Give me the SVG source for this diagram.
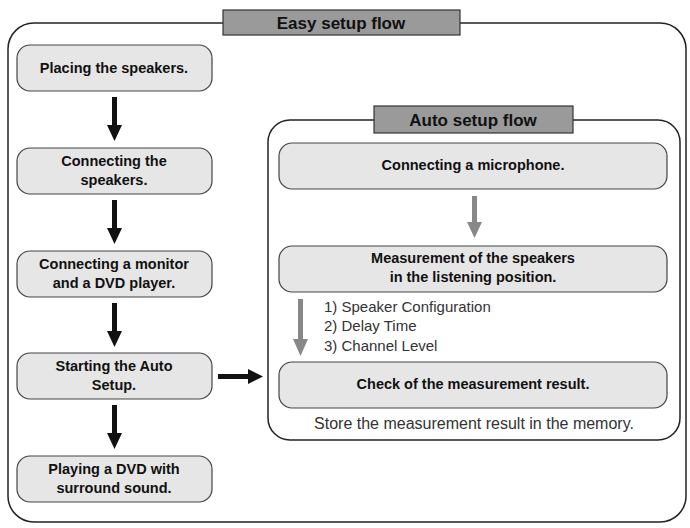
<svg xmlns="http://www.w3.org/2000/svg" width="690" height="528" viewBox="0 0 690 528">
<style>
.frame{fill:#fff;stroke:#222;stroke-width:1.5}
.title{fill:#9a9a9a;stroke:#333;stroke-width:1.2}
.box{fill:#e6e6e6;stroke:#444;stroke-width:1.2}
.t{font-family:"Liberation Sans",Arial,sans-serif;font-weight:bold;font-size:14.5px;fill:#111;text-anchor:middle}
.tt{font-family:"Liberation Sans",Arial,sans-serif;font-weight:bold;font-size:17px;fill:#111;text-anchor:middle}
.n{font-family:"Liberation Sans",Arial,sans-serif;font-size:15px;fill:#333}
.blk{fill:#111}
.gry{fill:#888}
</style>
<rect width="690" height="528" fill="#fff"/>
<rect class="frame" x="8" y="23" width="678" height="499" rx="26"/>
<g id="easy-title"><rect class="title" x="223" y="10" width="237" height="25"/><text class="tt" x="341" y="29">Easy setup flow</text></g>
<g id="n1"><rect class="box" x="17" y="45" width="195" height="46" rx="13"/><text class="t" x="114" y="73">Placing the speakers.</text></g>
<g id="n2"><rect class="box" x="17" y="148" width="195" height="46" rx="13"/><text class="t" x="114" y="166">Connecting the</text><text class="t" x="114" y="185">speakers.</text></g>
<g id="n3"><rect class="box" x="17" y="251" width="195" height="46" rx="13"/><text class="t" x="114" y="269">Connecting a monitor</text><text class="t" x="114" y="288">and a DVD player.</text></g>
<g id="n4"><rect class="box" x="17" y="353" width="195" height="46" rx="13"/><text class="t" x="114" y="371">Starting the Auto</text><text class="t" x="114" y="390">Setup.</text></g>
<g id="n5"><rect class="box" x="17" y="456" width="195" height="46" rx="13"/><text class="t" x="114" y="474">Playing a DVD with</text><text class="t" x="114" y="493">surround sound.</text></g>
<g id="auto">
<rect class="frame" x="268" y="120" width="412" height="320" rx="22"/>
<rect class="title" x="374" y="106" width="199" height="27"/><text class="tt" x="473" y="126">Auto setup flow</text>
</g>
<g id="a1"><rect class="box" x="279" y="143" width="388" height="46" rx="13"/><text class="t" x="473" y="170">Connecting a microphone.</text></g>
<g id="a2"><rect class="box" x="279" y="246" width="388" height="46" rx="13"/><text class="t" x="473" y="263">Measurement of the speakers</text><text class="t" x="473" y="282">in the listening position.</text></g>
<g id="list"><text class="n" x="324" y="312">1) Speaker Configuration</text><text class="n" x="324" y="331">2) Delay Time</text><text class="n" x="324" y="351">3) Channel Level</text></g>
<g id="a3"><rect class="box" x="279" y="362" width="388" height="46" rx="13"/><text class="t" x="473" y="389">Check of the measurement result.</text></g>
<text class="n" x="474" y="429" text-anchor="middle" style="font-size:16px">Store the measurement result in the memory.</text>
<g id="connectors">
<polygon class="blk" points="112,97 117,97 117,125 122,125 114.5,141 107,125 112,125"/>
<polygon class="blk" points="112,200 117,200 117,228 122,228 114.5,244 107,228 112,228"/>
<polygon class="blk" points="112,303 117,303 117,331 122,331 114.5,347 107,331 112,331"/>
<polygon class="blk" points="112,405 117,405 117,433 122,433 114.5,449 107,433 112,433"/>
<polygon class="blk" points="218,374 248,374 248,369 263,376.5 248,384 248,379 218,379"/>
<polygon class="gry" points="472,196 477,196 477,222 482,222 474.5,238 467,222 472,222"/>
<polygon class="gry" points="298,299 303,299 303,339 308,339 300.5,356 293,339 298,339"/>
</g>
</svg>
